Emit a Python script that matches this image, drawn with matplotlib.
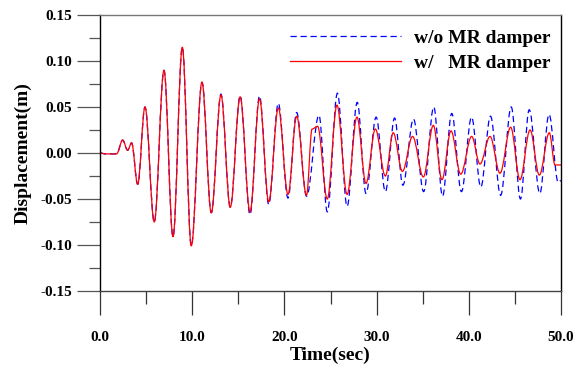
import numpy as np
import matplotlib
matplotlib.use("Agg")
import matplotlib.pyplot as plt
from matplotlib.path import Path
from matplotlib.patches import PathPatch
from matplotlib.lines import Line2D
from matplotlib.ticker import MultipleLocator, FormatStrFormatter

plt.rcParams['font.family'] = ['Liberation Serif', 'DejaVu Serif']
plt.rcParams['font.weight'] = 'bold'

# extrema (time in sec, displacement in m)
t_with = [0.0, 0.6, 1.8, 2.46, 3.0, 3.43, 4.09, 4.88, 5.89, 6.94, 7.92, 8.93, 9.9,
          11.06, 12.07, 13.12, 14.13, 15.2, 16.27, 17.3, 18.3, 19.34, 20.39, 21.33,
          22.4, 23.0, 23.6, 24.65, 25.7, 26.8, 27.87, 28.85, 29.86, 30.95, 31.8,
          32.8, 33.9, 35.07, 36.15, 37.09, 38.07, 39.12, 40.31, 41.21, 42.3, 43.38,
          44.54, 45.55, 46.64, 47.65, 48.73, 49.35, 50.0]
d_with = [0.0, -0.001, -0.001, 0.014, 0.003, 0.011, -0.034, 0.050, -0.075, 0.090,
          -0.091, 0.115, -0.101, 0.077, -0.065, 0.063, -0.059, 0.061, -0.064, 0.059,
          -0.053, 0.049, -0.045, 0.040, -0.046, 0.026, 0.029, -0.050, 0.052, -0.045,
          0.039, -0.033, 0.026, -0.025, 0.022, -0.020, 0.018, -0.026, 0.030, -0.029,
          0.024, -0.023, 0.018, -0.012, 0.018, -0.022, 0.028, -0.029, 0.025, -0.024,
          0.022, -0.013, -0.013]

t_without = [0.0, 0.6, 1.8, 2.46, 3.0, 3.43, 4.09, 4.88, 5.89, 6.94, 7.92, 8.93, 9.9,
             11.06, 12.07, 13.12, 14.13, 15.2, 16.27, 17.3, 18.3, 19.34, 20.39, 21.33,
             22.4, 23.75, 24.65, 25.75, 26.8, 27.9, 28.85, 29.95, 30.95, 31.95, 32.85,
             34.0, 35.1, 36.2, 37.15, 38.15, 39.2, 40.3, 41.3, 42.35, 43.45, 44.6,
             45.6, 46.55, 47.7, 48.7, 49.7, 50.0]
d_without = [0.0, -0.001, -0.001, 0.014, 0.003, 0.011, -0.034, 0.050, -0.075, 0.090,
             -0.091, 0.115, -0.101, 0.077, -0.065, 0.064, -0.059, 0.062, -0.067, 0.062,
             -0.056, 0.054, -0.049, 0.044, -0.047, 0.041, -0.064, 0.065, -0.058, 0.055,
             -0.044, 0.039, -0.042, 0.038, -0.035, 0.037, -0.042, 0.050, -0.047, 0.043,
             -0.042, 0.039, -0.037, 0.040, -0.046, 0.050, -0.050, 0.047, -0.044, 0.042,
             -0.032, -0.030]

labels = ["w/o MR damper", "w/   MR damper"]


def smooth_path(t, d):
    # cubic segments between extrema, flat tangents at every turning point
    verts = [(t[0], d[0])]
    codes = [Path.MOVETO]
    for i in range(len(t) - 1):
        dt = t[i + 1] - t[i]
        verts += [(t[i] + 0.36 * dt, d[i]), (t[i + 1] - 0.36 * dt, d[i + 1]), (t[i + 1], d[i + 1])]
        codes += [Path.CURVE4] * 3
    return Path(verts, codes)


fig = plt.figure(figsize=(5.83, 3.70), dpi=100)
ax = fig.add_axes([0.1715, 0.2135, 0.7908, 0.746])

ax.add_patch(PathPatch(smooth_path(t_without, d_without), fill=False, edgecolor='#0000ff',
                       lw=0.9, linestyle=(0, (5, 3))))
ax.add_patch(PathPatch(smooth_path(t_with, d_with), fill=False, edgecolor='#ff0000', lw=0.9))

ax.set_xlim(0, 50)
ax.set_ylim(-0.15, 0.15)
ax.xaxis.set_major_locator(MultipleLocator(10))
ax.xaxis.set_minor_locator(MultipleLocator(5))
ax.yaxis.set_major_locator(MultipleLocator(0.05))
ax.yaxis.set_minor_locator(MultipleLocator(0.025))
ax.xaxis.set_major_formatter(FormatStrFormatter('%.1f'))
ax.yaxis.set_major_formatter(FormatStrFormatter('%.2f'))

ax.tick_params(axis='x', which='major', direction='out', length=17, width=0.9, pad=12,
               labelsize=11, color='#333333')
ax.tick_params(axis='x', which='minor', direction='out', length=9, width=0.9, color='#333333')
ax.tick_params(axis='y', which='major', direction='out', length=16.5, width=0.9, pad=3.5,
               labelsize=11, color='#555555')
ax.tick_params(axis='y', which='minor', direction='out', length=8, width=0.9, color='#555555')
for lab in ax.get_xticklabels() + ax.get_yticklabels():
    lab.set_fontweight('bold')

ax.spines['left'].set_color('black')
ax.spines['right'].set_color('black')
ax.spines['top'].set_color('#777777')
ax.spines['bottom'].set_color('#444444')
for s in ax.spines.values():
    s.set_linewidth(1.0)

ax.set_xlabel("Time(sec)", fontsize=14, fontweight='bold', labelpad=2)
ax.set_ylabel("Displacement(m)", fontsize=14, fontweight='bold', labelpad=6)

handles = [Line2D([], [], color='#0000ff', lw=0.9, linestyle=(0, (5, 3))),
           Line2D([], [], color='#ff0000', lw=0.9)]
ax.legend(handles, labels, loc='upper right', frameon=False, fontsize=14,
          handlelength=5.7, handletextpad=0.67, labelspacing=0.38,
          borderaxespad=0.2, bbox_to_anchor=(1.002, 0.99))

fig.savefig("out.png", dpi=100)
